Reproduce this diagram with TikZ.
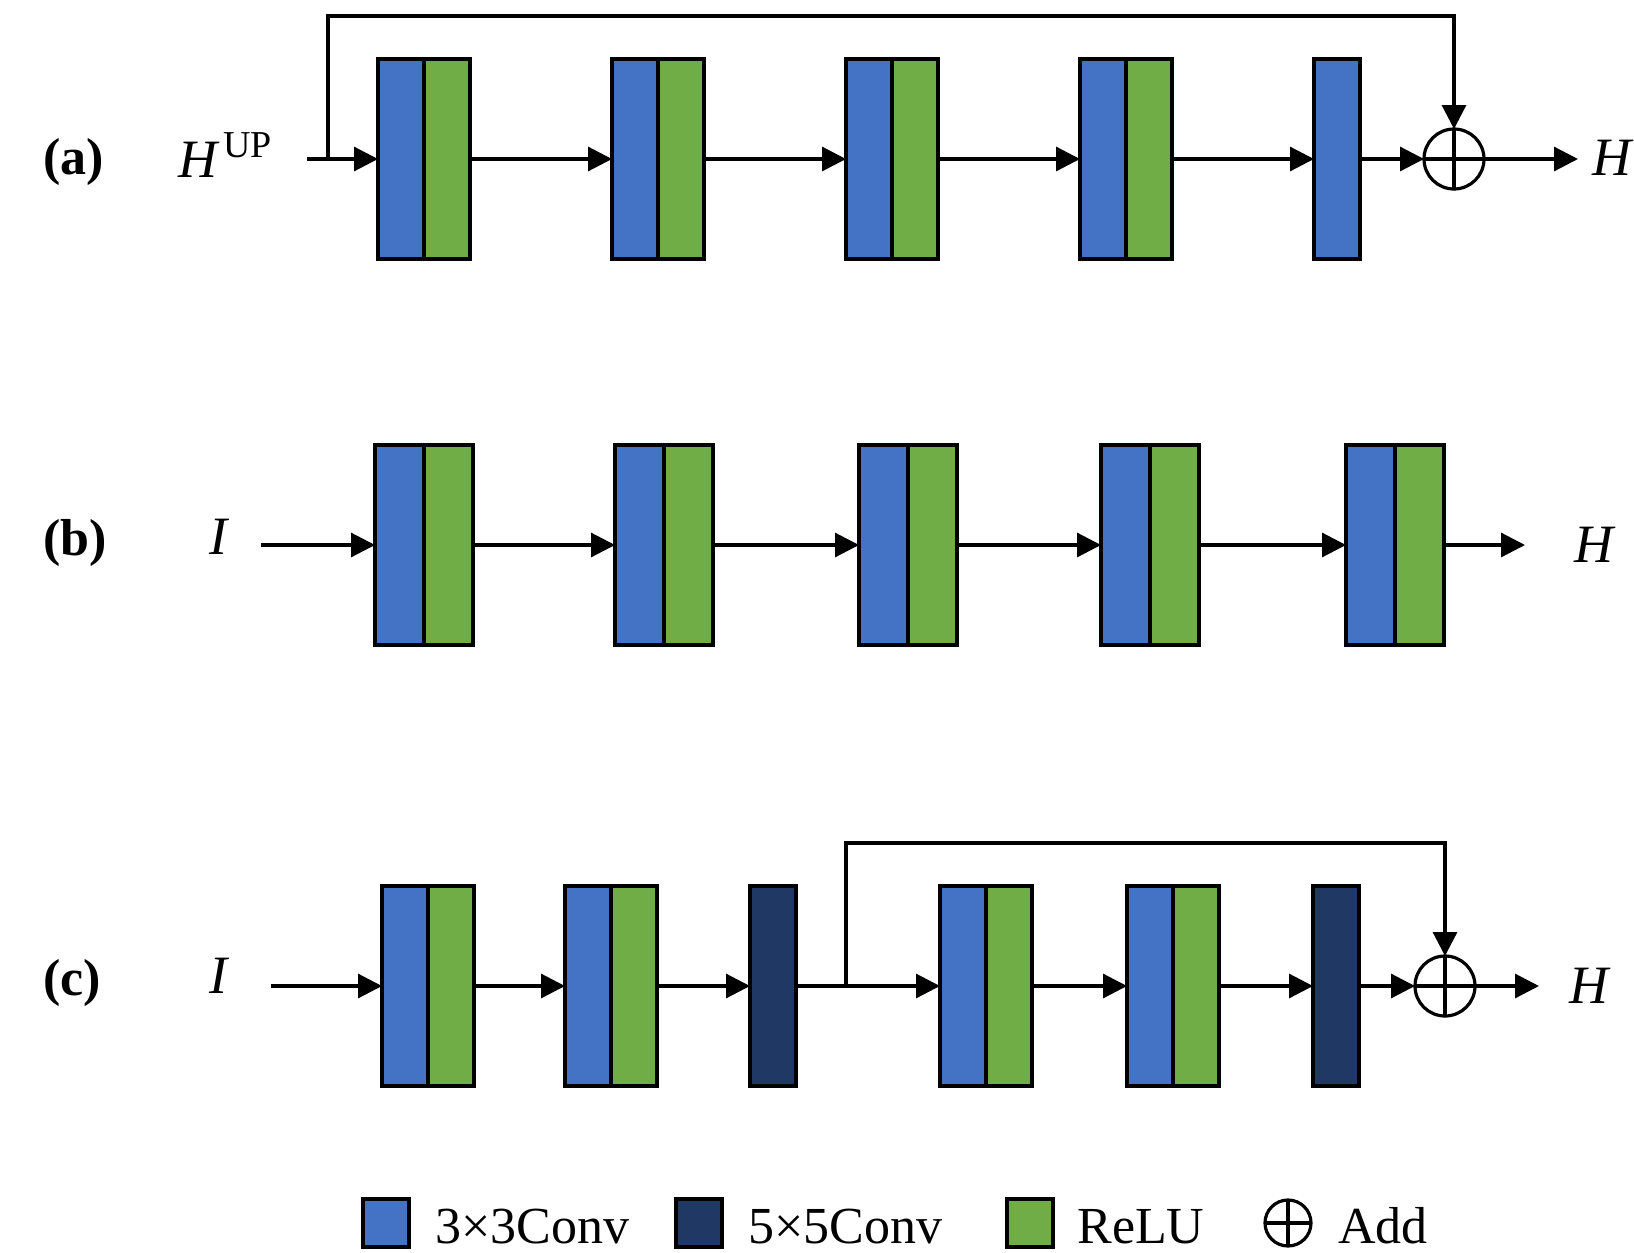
\documentclass[tikz,border=0pt]{standalone}
\usepackage{fontspec}
\setmainfont{Liberation Serif}
\usepackage{tikz}
\usetikzlibrary{arrows.meta,positioning}

\definecolor{convblue}{HTML}{4472C4}
\definecolor{convnavy}{HTML}{203864}
\definecolor{relugreen}{HTML}{70AD47}

\tikzset{
  conv/.style={draw,line width=1.7pt,fill=convblue,minimum width=23pt,
    minimum height=100pt,inner sep=0pt,outer sep=0pt},
  bigconv/.style={conv,fill=convnavy},
  relu/.style={conv,fill=relugreen},
  addop/.style={draw,circle,line width=1.6pt,minimum size=30pt,inner sep=0pt,outer sep=0pt,
    path picture={\draw[line width=1.6pt]
      (path picture bounding box.north) -- (path picture bounding box.south)
      (path picture bounding box.west) -- (path picture bounding box.east);}},
  flow/.style={line width=1.6pt,-{Triangle[length=12pt,width=12pt]}},
  var/.style={font=\fontsize{27}{30}\selectfont\itshape,inner sep=0pt,anchor=base west},
  tag/.style={font=\fontsize{26}{30}\selectfont\bfseries,inner sep=0pt,anchor=base west},
  key/.style={font=\fontsize{26}{30}\selectfont,inner sep=0pt,anchor=base west},
}

\begin{document}
\begin{tikzpicture}[x=0.5pt,y=-0.5pt]
  \useasboundingbox (0,0) rectangle (1634,1253);

  % (a)
  \node[tag] (ta) at (43,174) {(a)};
  \node[var] (hup) at (178,177) {H\hspace{3pt}\raisebox{10pt}{\upshape\fontsize{19}{20}\selectfont UP}};
  \coordinate (ina) at (307,159);
  \coordinate (ska) at (328,159);
  \node[conv] (a1) at (401,159) {};
  \node[relu,right=0pt of a1] (a1r) {};
  \node[conv] (a2) at (635,159) {};
  \node[relu,right=0pt of a2] (a2r) {};
  \node[conv] (a3) at (869,159) {};
  \node[relu,right=0pt of a3] (a3r) {};
  \node[conv] (a4) at (1103,159) {};
  \node[relu,right=0pt of a4] (a4r) {};
  \node[conv] (a5) at (1337,159) {};
  \node[addop] (adda) at (1454,159) {};
  \coordinate (outa) at (1578,159);
  \node[var] (ha) at (1592,175) {H};
  \draw[flow] (ina) -- (a1.west);
  \draw[flow] (a1r.east) -- (a2.west);
  \draw[flow] (a2r.east) -- (a3.west);
  \draw[flow] (a3r.east) -- (a4.west);
  \draw[flow] (a4r.east) -- (a5.west);
  \draw[flow] (a5.east) -- (adda.west);
  \draw[flow] (adda.east) -- (outa);
  \draw[flow] (ska) -- ++(0,-143) -| (adda.north);

  % (b)
  \node[tag] (tb) at (43,555) {(b)};
  \node[var] (ib) at (209,554) {I};
  \coordinate (inb) at (261,545);
  \node[conv,minimum width=24.5pt] (b1) at (399.5,545) {};
  \node[relu,minimum width=24.5pt,right=0pt of b1] (b1r) {};
  \node[conv,minimum width=24.5pt] (b2) at (639.5,545) {};
  \node[relu,minimum width=24.5pt,right=0pt of b2] (b2r) {};
  \node[conv,minimum width=24.5pt] (b3) at (883.5,545) {};
  \node[relu,minimum width=24.5pt,right=0pt of b3] (b3r) {};
  \node[conv,minimum width=24.5pt] (b4) at (1125.5,545) {};
  \node[relu,minimum width=24.5pt,right=0pt of b4] (b4r) {};
  \node[conv,minimum width=24.5pt] (b5) at (1370.5,545) {};
  \node[relu,minimum width=24.5pt,right=0pt of b5] (b5r) {};
  \coordinate (outb) at (1525,545);
  \node[var] (hb) at (1574,562) {H};
  \draw[flow] (inb) -- (b1.west);
  \draw[flow] (b1r.east) -- (b2.west);
  \draw[flow] (b2r.east) -- (b3.west);
  \draw[flow] (b3r.east) -- (b4.west);
  \draw[flow] (b4r.east) -- (b5.west);
  \draw[flow] (b5r.east) -- (outb);

  % (c)
  \node[tag] (tc) at (43,995) {(c)};
  \node[var] (ic) at (209,993) {I};
  \coordinate (inc) at (271,986);
  \node[conv] (c1) at (405,986) {};
  \node[relu,right=0pt of c1] (c1r) {};
  \node[conv] (c2) at (588,986) {};
  \node[relu,right=0pt of c2] (c2r) {};
  \node[bigconv] (c3) at (773,986) {};
  \coordinate (skc) at (846,986);
  \node[conv] (c4) at (963,986) {};
  \node[relu,right=0pt of c4] (c4r) {};
  \node[conv] (c5) at (1150,986) {};
  \node[relu,right=0pt of c5] (c5r) {};
  \node[bigconv] (c6) at (1336,986) {};
  \node[addop] (addc) at (1445,986) {};
  \coordinate (outc) at (1539,986);
  \node[var] (hc) at (1569,1003) {H};
  \draw[flow] (inc) -- (c1.west);
  \draw[flow] (c1r.east) -- (c2.west);
  \draw[flow] (c2r.east) -- (c3.west);
  \draw[flow] (c3.east) -- (c4.west);
  \draw[flow] (c4r.east) -- (c5.west);
  \draw[flow] (c5r.east) -- (c6.west);
  \draw[flow] (c6.east) -- (addc.west);
  \draw[flow] (addc.east) -- (outc);
  \draw[flow] (skc) -- ++(0,-143) -| (addc.north);

  % legend
  \node[conv,minimum height=24pt] (k1) at (386,1223) {};
  \node[key] (k1t) at (435,1243) {3×3Conv};
  \node[bigconv,minimum height=24pt] (k2) at (699,1223) {};
  \node[key] (k2t) at (748,1243) {5×5Conv};
  \node[relu,minimum height=24pt] (k3) at (1030,1223) {};
  \node[key] (k3t) at (1077,1243) {ReLU};
  \node[addop,minimum size=23pt] (k4) at (1288,1223) {};
  \node[key] (k4t) at (1338,1243) {Add};
\end{tikzpicture}
\end{document}
